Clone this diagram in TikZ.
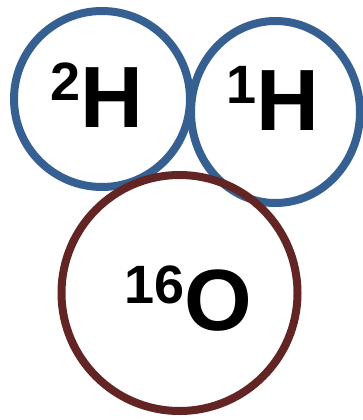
\documentclass[tikz,border=0pt]{standalone}
\usepackage{fontspec}
\setmainfont{Liberation Sans}
\usepackage{tikz}
\usetikzlibrary{shapes.geometric}
\definecolor{hblue}{RGB}{55,96,146}
\definecolor{ored}{RGB}{99,37,35}
\newcommand{\isonum}[1]{\raisebox{27pt}{\fontsize{54}{54}\selectfont #1}}
\tikzset{
  atom/.style={circle, draw=#1, line width=8pt, inner sep=0pt},
  atomoval/.style={ellipse, draw=#1, line width=8pt, inner sep=0pt},
  sym/.style={anchor=base west, inner sep=0pt,
              font=\fontsize{87}{87}\selectfont\bfseries},
}
\begin{document}
\begin{tikzpicture}[x=1pt, y=-1pt]
  \useasboundingbox (0,0) rectangle (363,420);
  % hydrogen atoms
  \node[atom=hblue, minimum size=176pt] (h2) at (102,99) {};
  \node[atomoval=hblue, minimum width=169pt, minimum height=182pt] (h1) at (275.5,112) {};
  % oxygen atom
  \node[atom=ored, minimum size=236pt] (o16) at (179.5,293) {};
  % isotope labels
  \node[sym] (h2lbl) at (50.4,127) {\isonum{2}H};
  \node[sym] (h1lbl) at (226.6,130) {\isonum{1}H};
  \node[sym] (o16lbl) at (124.5,330) {\isonum{16}O};
\end{tikzpicture}
\end{document}
